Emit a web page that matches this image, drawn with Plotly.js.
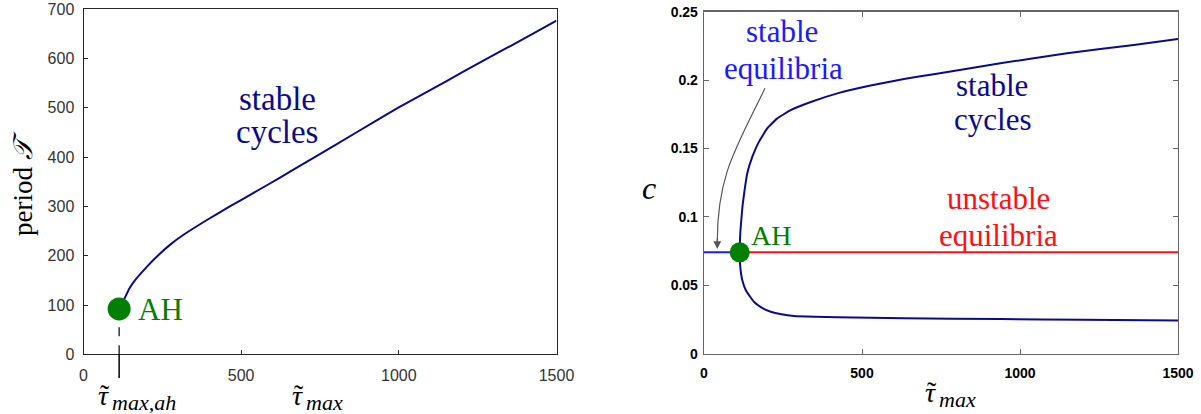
<!DOCTYPE html>
<html>
<head>
<meta charset="utf-8">
<script src="https://cdn.plot.ly/plotly-3.0.1.min.js"></script>
<style>html,body{margin:0;padding:0;background:#fff;}#chart{width:1201px;height:414px;}</style>
</head>
<body>
<div id="chart"></div>
<script>
// ---------- data ----------
// Left panel: period of stable cycles vs tau_max
const tauPeriod = [113, 127, 145, 163, 200, 232, 274, 316, 390, 464, 538, 622, 728, 865, 997, 1150, 1271, 1361, 1500];
const period    = [92, 109, 133, 150, 177, 198, 222, 242, 272, 300, 327, 358, 398, 450, 500, 554, 597, 628, 677];

// Hopf (AH) point
const ahTau = 113;
const ahPeriod = 92;
const ahC = 0.0741;

// Right panel: equilibria and cycle extrema
const tauStableEq   = [0, 113];
const cStableEq     = [0.0741, 0.0741];
const tauUnstableEq = [113, 1500];
const cUnstableEq   = [0.0741, 0.0741];

const tauUpper = [113, 113.5, 115, 118, 122, 127, 137, 153, 174, 200, 232, 274, 338, 422, 527, 633, 727, 938, 1149, 1360, 1500];
const cUpper   = [0.0741, 0.081, 0.089, 0.0977, 0.108, 0.1172, 0.1319, 0.144, 0.155, 0.1647, 0.172, 0.178, 0.184, 0.1903, 0.1960, 0.2008, 0.2043, 0.2123, 0.2196, 0.2257, 0.230];

const tauLower = [113, 113.5, 115, 117, 121, 132, 145, 158, 180, 211, 245, 285, 350, 422, 633, 938, 1200, 1500];
const cLower   = [0.0741, 0.068, 0.063, 0.059, 0.0539, 0.0466, 0.042, 0.038, 0.034, 0.0307, 0.0288, 0.0276, 0.027, 0.0266, 0.0259, 0.0253, 0.0248, 0.0243];

// tick labels
const xTickVals = [0, 500, 1000, 1500];
const xTickText = ['0', '500', '1000', '1500'];
const yLeftTickVals = [0, 100, 200, 300, 400, 500, 600, 700];
const yLeftTickText = ['0', '100', '200', '300', '400', '500', '600', '700'];
const yRightTickVals = [0, 0.05, 0.1, 0.15, 0.2, 0.25];
const yRightTickText = ['0', '0.05', '0.1', '0.15', '0.2', '0.25'];

// ---------- helpers ----------
const W = 1201, H = 414;
const px = x => x / W;
const py = y => 1 - y / H;

const NAVY = '#0a0a8c';
const BLUE = '#1a1aff';
const RED = '#ff1010';
const GREEN = '#008000';
const SERIF = 'Liberation Serif';

function label(x, y, text, size, color, extra) {
  return Object.assign({xref: 'paper', yref: 'paper', x: px(x), y: py(y), text: text,
    showarrow: false, xanchor: 'center', yanchor: 'middle',
    font: {family: SERIF, size: size, color: color}}, extra || {});
}

// tau-tilde with subscript, built from separate pieces
function tauLabel(xTau, y, sub) {
  return [
    label(xTau, y, '<i>τ</i>', 28, '#000'),
    label(xTau + 2, y - 1, '˜', 28, '#000'),
    label(xTau + 7, y + 7, '<i>' + sub + '</i>', 22, '#000', {xanchor: 'left'})
  ];
}

const traces = [
  // left
  {x: [ahTau, ahTau], y: [0, ahPeriod], xaxis: 'x', yaxis: 'y', mode: 'lines',
   line: {color: '#000', width: 1.2, dash: 'dash'}, hoverinfo: 'skip'},
  {x: tauPeriod, y: period, xaxis: 'x', yaxis: 'y', mode: 'lines',
   line: {color: NAVY, width: 2, shape: 'spline', smoothing: 0.3}},
  {x: [ahTau], y: [ahPeriod], xaxis: 'x', yaxis: 'y', mode: 'markers',
   marker: {color: GREEN, size: 23}, cliponaxis: false},
  // right
  {x: tauStableEq, y: cStableEq, xaxis: 'x2', yaxis: 'y2', mode: 'lines',
   line: {color: BLUE, width: 2}},
  {x: tauUnstableEq, y: cUnstableEq, xaxis: 'x2', yaxis: 'y2', mode: 'lines',
   line: {color: RED, width: 2}},
  {x: tauUpper, y: cUpper, xaxis: 'x2', yaxis: 'y2', mode: 'lines',
   line: {color: NAVY, width: 2, shape: 'spline', smoothing: 0.3}},
  {x: tauLower, y: cLower, xaxis: 'x2', yaxis: 'y2', mode: 'lines',
   line: {color: NAVY, width: 2, shape: 'spline', smoothing: 0.3}},
  {x: [ahTau], y: [ahC], xaxis: 'x2', yaxis: 'y2', mode: 'markers',
   marker: {color: GREEN, size: 20}, cliponaxis: false}
];

const leftTickFont = {family: 'Liberation Sans', size: 16, color: '#333'};
const rightTickFont = {family: 'Liberation Sans', size: 14, color: '#000', weight: 'bold'};

const layout = {
  width: W, height: H,
  margin: {l: 0, r: 0, t: 0, b: 0},
  paper_bgcolor: '#fff', plot_bgcolor: '#fff',
  showlegend: false,
  font: {family: SERIF},
  xaxis: {domain: [px(83.5), px(556.5)], range: [0, 1500], anchor: 'y',
    tickvals: xTickVals, ticktext: xTickText, ticks: 'inside', ticklen: 4, tickcolor: '#262626',
    showgrid: false, zeroline: false, showline: true, mirror: true, linecolor: '#262626', linewidth: 1,
    tickfont: leftTickFont, ticklabelstandoff: 6, fixedrange: true},
  yaxis: {domain: [py(354.3), py(9.3)], range: [0, 700], anchor: 'x',
    tickvals: yLeftTickVals, ticktext: yLeftTickText, ticks: 'inside', ticklen: 4, tickcolor: '#262626',
    showgrid: false, zeroline: false, showline: true, mirror: true, linecolor: '#262626', linewidth: 1,
    tickfont: leftTickFont, ticklabelstandoff: 5, fixedrange: true},
  xaxis2: {domain: [px(704), px(1178)], range: [0, 1500], anchor: 'y2',
    tickvals: xTickVals, ticktext: xTickText, ticks: 'inside', ticklen: 5, tickcolor: '#666',
    showgrid: false, zeroline: false, showline: true, mirror: 'ticks', linecolor: '#666', linewidth: 1.3,
    tickfont: rightTickFont, ticklabelstandoff: 6, fixedrange: true},
  yaxis2: {domain: [py(353.7), py(11.7)], range: [0, 0.25], anchor: 'x2',
    tickvals: yRightTickVals, ticktext: yRightTickText, ticks: 'inside', ticklen: 5, tickcolor: '#666',
    showgrid: false, zeroline: false, showline: true, mirror: 'ticks', linecolor: '#666', linewidth: 1.3,
    tickfont: rightTickFont, ticklabelstandoff: 2, fixedrange: true},
  shapes: [
    // solid marker line below the left x axis at the AH value
    {type: 'line', xref: 'x', yref: 'paper', x0: ahTau, x1: ahTau, y0: py(354.3), y1: py(378),
     line: {color: '#000', width: 1.5}},
    // curved arrow in right panel
    {type: 'path', xref: 'x2', yref: 'y2', path: 'M 193,0.194 C 100,0.15 42,0.13 42,0.082',
     line: {color: '#555', width: 1.2}}
  ],
  annotations: [
    // arrow head
    {xref: 'x2', yref: 'y2', axref: 'x2', ayref: 'y2', x: 42, y: 0.0765, ax: 42, ay: 0.085,
     text: '', showarrow: true, arrowhead: 2, arrowsize: 1.3, arrowwidth: 1.2, arrowcolor: '#555'},
    // left panel texts
    label(277, 99, 'stable', 33, NAVY),
    label(277, 132, 'cycles', 33, NAVY),
    label(161, 309, 'AH', 31, GREEN),
    label(23, 184, 'period <i>𝒯</i>', 27, '#000', {textangle: -90}),
    ...tauLabel(103, 395, 'max,ah'),
    ...tauLabel(297, 395, 'max'),
    // right panel texts
    label(782, 31, 'stable', 31, BLUE),
    label(783, 68, 'equilibria', 31, BLUE),
    label(992, 85, 'stable', 31, NAVY),
    label(992, 120, 'cycles', 31, NAVY),
    label(998, 198, 'unstable', 31, RED),
    label(998, 235, 'equilibria', 31, RED),
    label(771, 235, 'AH', 28, GREEN),
    label(649, 188, '<i>c</i>', 32, '#000'),
    ...tauLabel(930, 392, 'max')
  ]
};

Plotly.newPlot('chart', traces, layout, {staticPlot: true, displayModeBar: false});
</script>
</body>
</html>
